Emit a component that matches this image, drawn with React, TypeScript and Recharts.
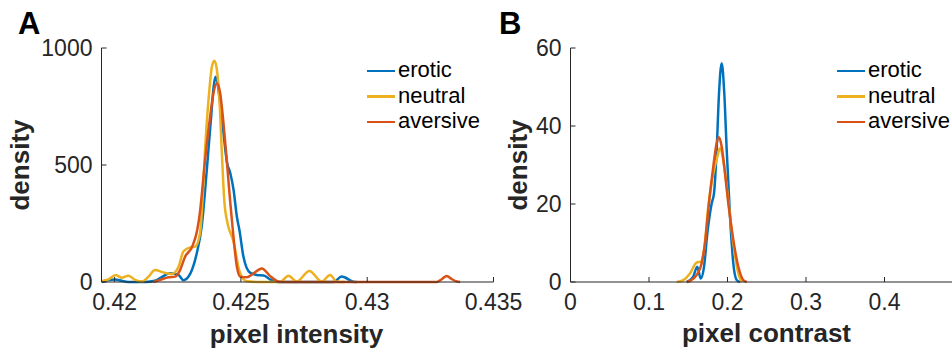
import { LineChart, Line, XAxis, YAxis, Legend } from "recharts";

const FONT = "Arial, 'Liberation Sans', Helvetica, sans-serif";
const INK = "#262626";

const groups = ["erotic", "neutral", "aversive"];
const colors = ["#0072BD", "#EDB120", "#D95319"];

// panel A: pixel intensity
const intensityTicks = [0.42, 0.425, 0.43, 0.435];
const intensityDensityTicks = [0, 500, 1000];

const eroticIntX = [0.4195, 0.41975, 0.42002, 0.42028, 0.42053, 0.42121, 0.4216, 0.42185, 0.4222, 0.42253, 0.42272, 0.42299, 0.42325, 0.42345, 0.42366, 0.42382, 0.42392, 0.42399, 0.42408, 0.42416, 0.42431, 0.42445, 0.42458, 0.42471, 0.42484, 0.42494, 0.4251, 0.42536, 0.42563, 0.4259, 0.42617, 0.42645, 0.42866, 0.42899, 0.42952, 0.42959];
const eroticIntY = [0, 9, 11, 5, 0, 0, 5, 20, 37, 30, 8, 35, 122, 240, 493, 706, 835, 877, 845, 778, 635, 510, 465, 393, 279, 222, 108, 40, 30, 28, 10, 0, 0, 23, 0, 0];

const neutralIntX = [0.4195, 0.41975, 0.42005, 0.42028, 0.42055, 0.42081, 0.42108, 0.42134, 0.4216, 0.42193, 0.42226, 0.42253, 0.42272, 0.42299, 0.42319, 0.42338, 0.42348, 0.42358, 0.42375, 0.42385, 0.42395, 0.42405, 0.42415, 0.42424, 0.42434, 0.42447, 0.42469, 0.42497, 0.42523, 0.4258, 0.42655, 0.42688, 0.42721, 0.42771, 0.4282, 0.42853, 0.4288, 0.4291];
const neutralIntY = [4, 11, 30, 18, 27, 9, 2, 23, 51, 41, 34, 65, 130, 148, 151, 208, 350, 564, 820, 920, 946, 906, 778, 564, 350, 251, 180, 37, 3, 0, 0, 27, 2, 47, 2, 30, 1, 0];

const aversiveIntX = [0.42154, 0.4218, 0.42213, 0.4224, 0.42259, 0.42279, 0.42307, 0.42327, 0.42338, 0.42358, 0.42378, 0.42391, 0.42405, 0.42418, 0.42431, 0.42444, 0.42457, 0.42468, 0.42484, 0.42497, 0.42523, 0.4255, 0.42583, 0.42616, 0.42642, 0.42663, 0.43276, 0.43295, 0.43315, 0.43335, 0.43355, 0.43368];
const aversiveIntY = [0, 9, 20, 23, 51, 108, 151, 222, 300, 521, 706, 806, 849, 806, 678, 521, 350, 222, 65, 23, 20, 37, 58, 25, 5, 0, 0, 12, 26, 12, 2, 0];

// panel B: pixel contrast
const contrastTicks = [0, 0.1, 0.2, 0.3, 0.4];
const contrastDensityTicks = [0, 20, 40, 60];

const eroticConX = [0.148, 0.1564, 0.1615, 0.1659, 0.1701, 0.1743, 0.1799, 0.1828, 0.1862, 0.1892, 0.1926, 0.1959, 0.199, 0.2032, 0.2074, 0.2117, 0.2159];
const eroticConY = [0, 1.4, 3.9, 0.9, 3.9, 12.5, 20.2, 22.7, 33.8, 48.4, 56.1, 48.4, 33.8, 16.8, 4.8, 0.5, 0];

const neutralConX = [0.1353, 0.1437, 0.1522, 0.1608, 0.1659, 0.1701, 0.1755, 0.1819, 0.187, 0.1904, 0.1946, 0.201, 0.2074, 0.2138, 0.2181];
const neutralConY = [0, 0.5, 2.2, 5, 5.2, 8.2, 19.3, 27.9, 32.1, 34.3, 31.3, 21, 9.9, 2.2, 0];

const aversiveConX = [0.148, 0.1522, 0.1608, 0.1671, 0.1713, 0.1768, 0.1819, 0.1862, 0.1892, 0.1926, 0.1968, 0.201, 0.2074, 0.2138, 0.2201, 0.2245];
const aversiveConY = [0, 0.3, 1.8, 4.8, 9.9, 21, 29.6, 35.6, 37.1, 34.7, 27.9, 20.2, 10.8, 3.9, 0.5, 0];

function zip(xs: number[], ys: number[]) {
  return xs.map((x, i) => ({ x, y: ys[i] }));
}

const intensitySeries = [
  zip(eroticIntX, eroticIntY),
  zip(neutralIntX, neutralIntY),
  zip(aversiveIntX, aversiveIntY),
];
const contrastSeries = [
  zip(eroticConX, eroticConY),
  zip(neutralConX, neutralConY),
  zip(aversiveConX, aversiveConY),
];

const tickStyle = { fill: INK, fontSize: 23, fontFamily: FONT };

function KeyBox() {
  return (
    <div style={{ fontFamily: FONT, fontSize: 22, color: "#000" }}>
      {groups.map((g, i) => (
        <div key={g} style={{ display: "flex", alignItems: "center", height: 25.5 }}>
          <span style={{ display: "inline-block", width: 28, height: 2.5, background: colors[i], marginRight: 3 }} />
          <span style={{ lineHeight: "25.5px", marginTop: -2 }}>{g}</span>
        </div>
      ))}
    </div>
  );
}

interface PanelProps {
  width: number;
  series: { x: number; y: number }[][];
  xDomain: [number, number];
  xTicks: number[];
  yDomain: [number, number];
  yTicks: number[];
  margin: { top: number; right: number; bottom: number; left: number };
  legendLeft: number;
}

function Panel({ width, series, xDomain, xTicks, yDomain, yTicks, margin, legendLeft }: PanelProps) {
  return (
    <LineChart width={width} height={353} margin={margin}>
      <XAxis
        dataKey="x"
        type="number"
        domain={xDomain}
        ticks={xTicks}
        interval={0}
        allowDataOverflow
        height={30}
        stroke={INK}
        tickSize={-5}
        tickMargin={17}
        tick={tickStyle}
        tickFormatter={(v: number) => String(v)}
      />
      <YAxis
        type="number"
        domain={yDomain}
        ticks={yTicks}
        interval={0}
        width={60}
        stroke={INK}
        tickSize={-5}
        tickMargin={14}
        tick={tickStyle}
      />
      <Legend
        layout="horizontal"
        verticalAlign="middle"
        align="center"
        content={() => <KeyBox />}
        wrapperStyle={{ left: legendLeft, top: 58, width: "auto", height: "auto", bottom: "auto" }}
      />
      {series.map((d, i) => (
        <Line
          key={groups[i]}
          data={d}
          dataKey="y"
          name={groups[i]}
          type="monotone"
          stroke={colors[i]}
          strokeWidth={2.5}
          dot={false}
          activeDot={false}
          isAnimationActive={false}
        />
      ))}
    </LineChart>
  );
}

export default function App() {
  return (
    <div
      style={{
        position: "absolute",
        left: 0,
        top: 0,
        width: 952,
        height: 353,
        overflow: "hidden",
        background: "#fff",
      }}
    >
      <div style={{ position: "absolute", left: 0, top: 0 }}>
        <Panel
          width={535}
          series={intensitySeries}
          xDomain={[0.41948, 0.435]}
          xTicks={intensityTicks}
          yDomain={[0, 1000]}
          yTicks={intensityDensityTicks}
          margin={{ top: 48, right: 41.5, bottom: 41, left: 41.5 }}
          legendLeft={367}
        />
      </div>
      <div style={{ position: "absolute", left: 480, top: 0 }}>
        <Panel
          width={500}
          series={contrastSeries}
          xDomain={[0, 0.5]}
          xTicks={contrastTicks}
          yDomain={[0, 60]}
          yTicks={contrastDensityTicks}
          margin={{ top: 48, right: 17, bottom: 41, left: 30.5 }}
          legendLeft={357}
        />
      </div>
      <svg
        width={952}
        height={353}
        style={{ position: "absolute", left: 0, top: 0, pointerEvents: "none" }}
        fontFamily={FONT}
        fontWeight="bold"
      >
        <text x={18} y={34.3} fontSize={31} fill="#000">A</text>
        <text x={499} y={34.3} fontSize={31} fill="#000">B</text>
        <text x={296.5} y={343} fontSize={26} fill={INK} textAnchor="middle">pixel intensity</text>
        <text x={766.5} y={342} fontSize={26} fill={INK} textAnchor="middle">pixel contrast</text>
        <text transform="translate(28.7,165) rotate(-90)" fontSize={26} fill={INK} textAnchor="middle">density</text>
        <text transform="translate(527,165) rotate(-90)" fontSize={26} fill={INK} textAnchor="middle">density</text>
      </svg>
    </div>
  );
}
